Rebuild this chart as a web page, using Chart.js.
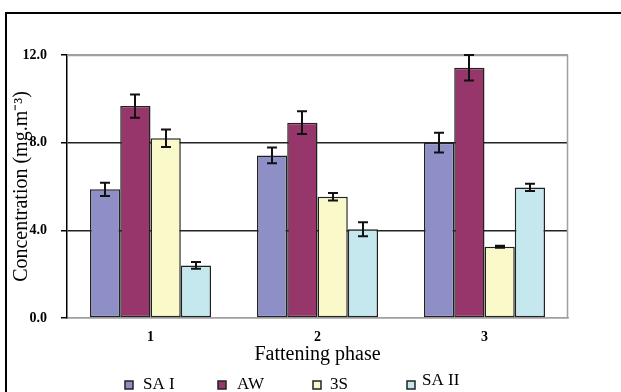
<!DOCTYPE html>
<html>
<head>
<meta charset="utf-8">
<script src="https://cdn.jsdelivr.net/npm/chart.js@4"></script>
<style>
html,body{margin:0;padding:0;background:#fff;overflow:hidden;}
#wrap{position:relative;width:621px;height:392px;}
canvas{display:block;}
</style>
</head>
<body>
<div id="wrap"><canvas id="c" width="621" height="392"></canvas></div>
<script>
// ---- data ----
const categories = ['1', '2', '3'];
const seriesNames = ['SA I', 'AW', '3S', 'SA II'];
const saI   = [5.87, 7.42, 8.00];
const aw    = [9.67, 8.91, 11.42];
const s3    = [8.20, 5.53, 3.25];
const saII  = [2.40, 4.05, 5.96];
const saIErr  = [0.30, 0.36, 0.45];
const awErr   = [0.53, 0.52, 0.58];
const s3Err   = [0.40, 0.17, 0.05];
const saIIErr = [0.15, 0.32, 0.17];
const yTicks = [0, 4, 8, 12];

const colors = ['#8f8fc7', '#97366b', '#f9f9ca', '#c5e7ee'];
const values = [saI, aw, s3, saII];
const errors = [saIErr, awErr, s3Err, saIIErr];

const serif = '"Liberation Serif", "Times New Roman", serif';

const errorBars = {
  id: 'errorBars',
  afterDatasetsDraw(chart) {
    const ctx = chart.ctx;
    const y = chart.scales.y;
    ctx.save();
    ctx.strokeStyle = '#111';
    ctx.lineWidth = 2;
    chart.data.datasets.forEach((ds, i) => {
      const meta = chart.getDatasetMeta(i);
      meta.data.forEach((el, j) => {
        const v = ds.data[j], e = ds.errors[j];
        const yt = y.getPixelForValue(v + e);
        const yb = y.getPixelForValue(v - e);
        const x = Math.round(el.x);
        ctx.beginPath();
        ctx.moveTo(x, yt); ctx.lineTo(x, yb);
        ctx.moveTo(x - 5, yt); ctx.lineTo(x + 5, yt);
        ctx.moveTo(x - 5, yb); ctx.lineTo(x + 5, yb);
        ctx.stroke();
      });
    });
    ctx.restore();
  }
};

const frame = {
  id: 'frame',
  beforeDatasetsDraw(chart) {
    const {ctx, chartArea: a} = chart;
    ctx.save();
    ctx.strokeStyle = '#a0a0a0';
    ctx.lineWidth = 1.5;
    ctx.beginPath();
    ctx.moveTo(a.left, a.top + 0.5);
    ctx.lineTo(a.right - 0.5, a.top + 0.5);
    ctx.lineTo(a.right - 0.5, a.bottom);
    ctx.stroke();
    ctx.restore();
  },
  afterDraw(chart) {
    const ctx = chart.ctx;
    ctx.save();
    // outer border
    ctx.strokeStyle = '#000';
    ctx.lineWidth = 2;
    ctx.strokeRect(6, 13, 700, 500);
    // legend
    const boxX = [125, 218, 313, 407];
    const textX = [143, 237, 330, 422];
    const lift = [0, 0, 0, 4];
    ctx.font = '17px ' + serif;
    ctx.textBaseline = 'alphabetic';
    chart.data.datasets.forEach((ds, i) => {
      ctx.fillStyle = ds.backgroundColor;
      ctx.fillRect(boxX[i], 381, 8, 8);
      ctx.strokeStyle = '#222';
      ctx.lineWidth = 1.5;
      ctx.strokeRect(boxX[i], 381, 8, 8);
      ctx.fillStyle = '#000';
      ctx.fillText(ds.label, textX[i], 389 - lift[i]);
    });
    ctx.restore();
  }
};

new Chart(document.getElementById('c'), {
  type: 'bar',
  data: {
    labels: categories,
    datasets: seriesNames.map((n, i) => ({
      label: n,
      data: values[i],
      errors: errors[i],
      backgroundColor: colors[i],
      borderColor: '#222',
      borderWidth: 1.5,
      borderSkipped: false,
      categoryPercentage: 0.725,
      barPercentage: 1.0
    }))
  },
  options: {
    responsive: false,
    animation: false,
    devicePixelRatio: 1,
    layout: {padding: {left: 0, right: 53, top: 55, bottom: 0}},
    plugins: {legend: {display: false}, tooltip: {enabled: false}},
    scales: {
      x: {
        afterFit(s) { s.height = 74; },
        grid: {display: false, drawTicks: false},
        border: {display: true, color: '#a0a0a0', width: 1.5},
        ticks: {padding: 11, color: '#000', font: {family: serif, size: 14, weight: 'bold'}},
        title: {display: true, text: 'Fattening phase', color: '#000',
                font: {family: serif, size: 20}, padding: {top: 0, bottom: 25}}
      },
      y: {
        min: 0, max: 12,
        afterFit(s) { s.width = 67; },
        afterBuildTicks(s) { s.ticks = yTicks.map(v => ({value: v})); },
        grid: {
          color: c => (c.tick && (c.tick.value === 0 || c.tick.value === 12)) ? '#a0a0a0' : '#222',
          lineWidth: 1.5,
          tickColor: '#000',
          tickLength: 6,
          drawTicks: true
        },
        border: {display: true, color: '#000', width: 1.5},
        ticks: {padding: 14, color: '#000', font: {family: serif, size: 14, weight: 'bold'},
                callback: v => Number(v).toFixed(1)},
        title: {display: true, text: 'Concentration (mg.m⁻³)', color: '#000',
                font: {family: serif, size: 20}, padding: {top: 10, bottom: 0}}
      }
    }
  },
  plugins: [frame, errorBars]
});
</script>
</body>
</html>
